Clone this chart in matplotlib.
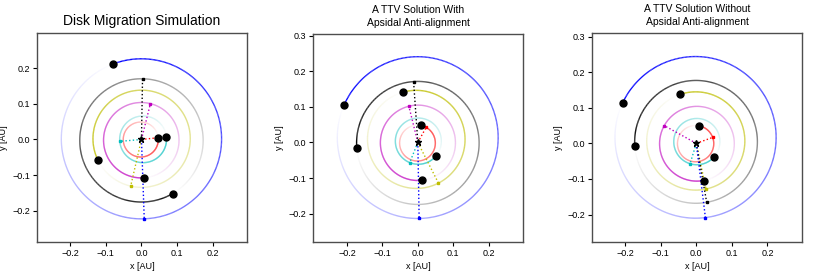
import numpy as np
import matplotlib.pyplot as plt
from matplotlib.collections import LineCollection
from matplotlib.colors import to_rgba
from matplotlib.ticker import MultipleLocator

plt.rcParams['font.family'] = ['Liberation Sans', 'DejaVu Sans']

titles = ['Disk Migration Simulation',
          'A TTV Solution With\nApsidal Anti-alignment',
          'A TTV Solution Without\nApsidal Anti-alignment']
colors = ['r', 'c', 'm', 'y', 'k', 'b']

# per planet: semi-major axis [AU], eccentricity, periapsis longitude [deg], planet longitude [deg]
a_disk = [0.049, 0.0655, 0.1055, 0.136, 0.1725, 0.224]
e_disk = [0.04, 0.07, 0.02, 0.015, 0.015, 0.008]
peri_disk = [6, 185, 76, -103, 89, -88]
lam_disk = [6, 5, -86.5, 205.6, -60, 111]

a_with = [0.0505, 0.065, 0.106, 0.138, 0.173, 0.2275]
e_with = [0.04, 0.06, 0.01, 0.07, 0.008, 0.06]
peri_with = [61, -112, 104, -63, 94, -89]
lam_with = [79, -37.6, -84, 107, 185, 153]

a_without = [0.051, 0.065, 0.105, 0.138, 0.1725, 0.227]
e_without = [0.04, 0.08, 0.02, 0.05, 0.025, 0.075]
peri_without = [20, -107, 151, -78, -80, -83]
lam_without = [82.5, -37, -79, 108, 182, 151]

panels = [(a_disk, e_disk, peri_disk, lam_disk),
          (a_with, e_with, peri_with, lam_with),
          (a_without, e_without, peri_without, lam_without)]

xlims = [(-0.292, 0.295), (-0.296, 0.297), (-0.293, 0.297)]
ylims = [(-0.287, 0.298), (-0.28, 0.305), (-0.277, 0.31)]
boxes = [[37 / 830, 35 / 277, 210 / 830, 209 / 277],
         [313 / 830, 35 / 277, 210 / 830, 208 / 277],
         [592 / 830, 35 / 277, 210 / 830, 209 / 277]]


def radius(a, e, peri, th):
    return a * (1 - e ** 2) / (1 + e * np.cos(np.radians(th - peri)))


fig = plt.figure(figsize=(8.3, 2.77), dpi=100)
for k, (aa, ee, pp, ll) in enumerate(panels):
    ax = fig.add_axes(boxes[k])
    for a, e, peri, lam, c in zip(aa, ee, pp, ll, colors):
        # fading trail behind the planet, one full orbit
        th = np.linspace(lam, lam - 360, 400)
        r = radius(a, e, peri, th)
        x = r * np.cos(np.radians(th))
        y = r * np.sin(np.radians(th))
        pts = np.column_stack([x, y]).reshape(-1, 1, 2)
        segs = np.concatenate([pts[:-1], pts[1:]], axis=1)
        rgba = np.tile(to_rgba(c), (len(segs), 1))
        rgba[:, 3] = np.linspace(1, 0, len(segs))
        ax.add_collection(LineCollection(segs, colors=rgba, linewidths=1))
        # line of apsides
        rp = radius(a, e, peri, peri)
        px, py = rp * np.cos(np.radians(peri)), rp * np.sin(np.radians(peri))
        ax.plot([0, px], [0, py], ':', color=c, lw=1)
        ax.plot(px, py, 's', color=c, ms=2)
        # planet
        r0 = radius(a, e, peri, lam)
        ax.plot(r0 * np.cos(np.radians(lam)), r0 * np.sin(np.radians(lam)), 'ko', ms=5, zorder=5)
    ax.plot(0, 0, 'k*', ms=5, zorder=6)
    ax.set_xlim(xlims[k])
    ax.set_ylim(ylims[k])
    ax.xaxis.set_major_locator(MultipleLocator(0.1))
    ax.yaxis.set_major_locator(MultipleLocator(0.1))
    ax.tick_params(direction='out', length=3, width=0.8, labelsize=6.5, pad=2,
                   top=False, right=False)
    for s in ax.spines.values():
        s.set_color('0.3')
        s.set_linewidth(1)
    ax.set_xlabel('x [AU]', fontsize=6.5, labelpad=3)
    ax.set_ylabel('y [AU]', fontsize=6.5, labelpad=3)
    if k == 0:
        ax.set_title(titles[k], fontsize=10, pad=6)
    else:
        ax.set_title(titles[k], fontsize=7.5, pad=6, linespacing=1.35)

fig.savefig('out.png', dpi=100)
